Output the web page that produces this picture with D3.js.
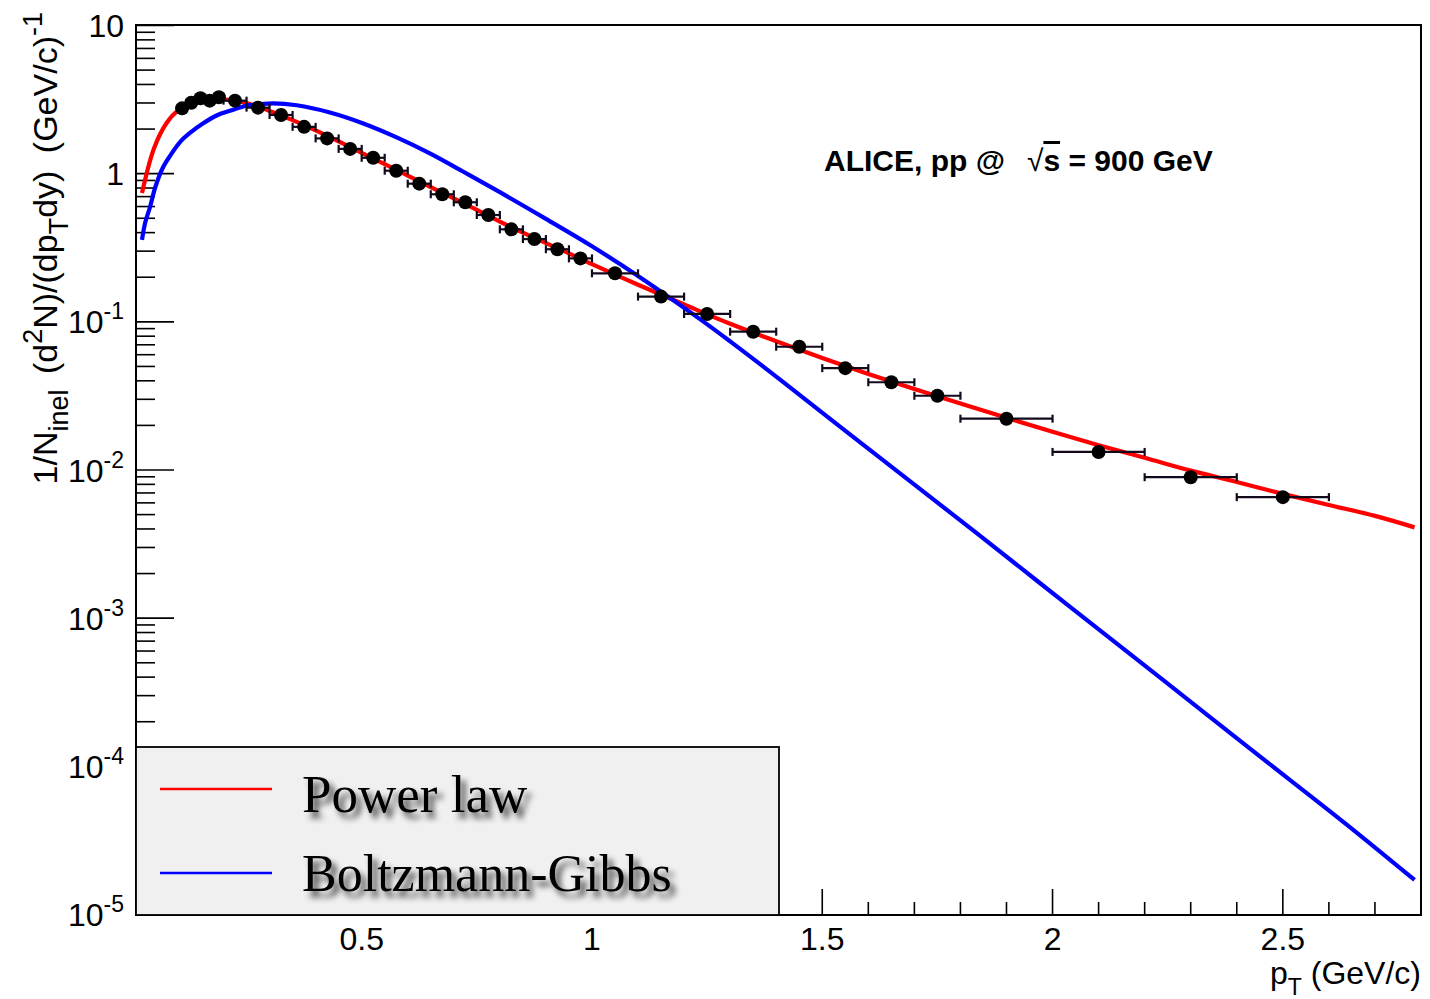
<!DOCTYPE html>
<html><head><meta charset="utf-8">
<script src="https://cdn.jsdelivr.net/npm/d3@7"></script>
<style>body{margin:0;background:#fff}svg{display:block}</style>
</head><body>
<script>
// ---- data ----
const ptCenters = [0.11,0.13,0.15,0.17,0.19,0.225,0.275,0.325,0.375,0.425,0.475,0.525,0.575,0.625,0.675,0.725,0.775,0.825,0.875,0.925,0.975,1.05,1.15,1.25,1.35,1.45,1.55,1.65,1.75,1.9,2.1,2.3,2.5];
const ptHalfWidths = [0.01,0.01,0.01,0.01,0.01,0.025,0.025,0.025,0.025,0.025,0.025,0.025,0.025,0.025,0.025,0.025,0.025,0.025,0.025,0.025,0.025,0.05,0.05,0.05,0.05,0.05,0.05,0.05,0.05,0.1,0.1,0.1,0.1];
const yields = [2.76,3.01,3.23,3.11,3.28,3.11,2.79,2.49,2.07,1.73,1.47,1.28,1.047,0.856,0.726,0.641,0.526,0.421,0.362,0.309,0.268,0.2126,0.148,0.113,0.0858,0.0679,0.0487,0.0391,0.0317,0.0222,0.01324,0.00894,0.00656];

const powerLawPt  = [0.023,0.049,0.076,0.098,0.13,0.16,0.20,0.25,0.30,0.35,0.40,0.45,0.50,0.55,0.60,0.65,0.70,0.75,0.80,0.85,0.90,0.95,1.00,1.10,1.20,1.30,1.40,1.50,1.60,1.70,1.80,1.90,2.00,2.10,2.20,2.30,2.40,2.50,2.60,2.70,2.786];
const powerLawVal = [0.74,1.48,2.19,2.62,2.98,3.14,3.18,3.0,2.65,2.3,1.96,1.65,1.38,1.16,0.97,0.81,0.68,0.57,0.475,0.40,0.34,0.29,0.245,0.178,0.131,0.097,0.074,0.057,0.0445,0.0352,0.0281,0.0225,0.0181,0.0147,0.0121,0.0099,0.0083,0.0069,0.0058,0.0049,0.0041];

const bgPt  = [0.023,0.030,0.040,0.052,0.069,0.085,0.106,0.130,0.156,0.185,0.214,0.245,0.272,0.308,0.359,0.431,0.5035,0.576,0.648,0.721,0.80,0.90,1.00,1.10,1.2345,1.30,1.40,1.535,1.836,2.036,2.237,2.437,2.638,2.786];
const bgVal = [0.357,0.468,0.589,0.813,1.109,1.334,1.641,1.914,2.188,2.47,2.655,2.853,2.924,2.985,2.897,2.588,2.183,1.758,1.371,1.030,0.750,0.495,0.3236,0.204,0.1043,0.0738,0.0427,0.0200,0.003733,0.001205,3.89e-4,1.257e-4,4.06e-5,1.71e-5];

const xMajorTicks = [0.5,1,1.5,2,2.5];
const xTickLabels = ["0.5","1","1.5","2","2.5"];
const yDecadeTicks = [10,1,0.1,0.01,0.001,0.0001,0.00001];
const yTickBase = ["10","1","10","10","10","10","10"];
const yTickExp  = ["","","-1","-2","-3","-4","-5"];
const legendLabels = ["Power law","Boltzmann-Gibbs"];
const legendColors = ["#ff0000","#0000ff"];

// ---- layout ----
const W = 1430, H = 999;
const L = 136, R = 1421, T = 25, B = 915;
const svg = d3.select("body").append("svg").attr("width",W).attr("height",H);
const x = d3.scaleLinear().domain([0.01,2.8]).range([L,R]);
const y = d3.scaleLog().domain([1e-5,10]).range([B-0.5,T+0.5]);
const font = "'Liberation Sans', Arial, Helvetica, sans-serif";

const defs = svg.append("defs");
defs.append("clipPath").attr("id","plotclip").append("rect").attr("x",L).attr("y",T).attr("width",R-L).attr("height",B-T);
const f = defs.append("filter").attr("id","tshadow").attr("x","-10%").attr("y","-40%").attr("width","130%").attr("height","200%");
f.append("feGaussianBlur").attr("in","SourceAlpha").attr("stdDeviation",3).attr("result","bl");
f.append("feOffset").attr("in","bl").attr("dx",5).attr("dy",6).attr("result","off");
f.append("feComponentTransfer").attr("in","off").attr("result","sh").append("feFuncA").attr("type","linear").attr("slope",0.75);
const fm = f.append("feMerge"); fm.append("feMergeNode").attr("in","sh"); fm.append("feMergeNode").attr("in","SourceGraphic");

// y ticks (log)
const yTicks = [];
for (let e=-5; e<=0; e++) for (let m=1; m<=9; m++) yTicks.push({v:m*Math.pow(10,e), major:m===1});
yTicks.push({v:10,major:true});
svg.append("g").selectAll("line").data(yTicks).join("line")
  .attr("x1",L).attr("x2",d=>L+(d.major?38:19))
  .attr("y1",d=>y(d.v)).attr("y2",d=>y(d.v))
  .attr("stroke","#000").attr("stroke-width",1.6);

// x ticks
const xTicks = [];
for (let i=1;i<=27;i++) xTicks.push({v:i/10, major:i%5===0});
svg.append("g").selectAll("line").data(xTicks).join("line")
  .attr("x1",d=>x(d.v)).attr("x2",d=>x(d.v))
  .attr("y1",B).attr("y2",d=>B-(d.major?26:13))
  .attr("stroke","#000").attr("stroke-width",1.6);

// curves
const lineGen = d3.line().x(d=>x(d[0])).y(d=>y(d[1])).curve(d3.curveCatmullRom.alpha(0.5));
const gc = svg.append("g").attr("clip-path","url(#plotclip)");
gc.append("path").datum(powerLawPt.map((p,i)=>[p,powerLawVal[i]]))
  .attr("d",lineGen).attr("fill","none").attr("stroke","#ff0000").attr("stroke-width",4.2).attr("stroke-linejoin","round");
gc.append("path").datum(bgPt.map((p,i)=>[p,bgVal[i]]))
  .attr("d",lineGen).attr("fill","none").attr("stroke","#0000ff").attr("stroke-width",4.2).attr("stroke-linejoin","round");

// data points with x error bars
const pts = ptCenters.map((p,i)=>({p, w:ptHalfWidths[i], v:yields[i]}));
const gp = svg.append("g");
gp.selectAll("line.eb").data(pts).join("line").attr("class","eb")
  .attr("x1",d=>x(d.p-d.w)).attr("x2",d=>x(d.p+d.w)).attr("y1",d=>y(d.v)).attr("y2",d=>y(d.v))
  .attr("stroke","#120a1c").attr("stroke-width",2.2);
gp.selectAll("line.c1").data(pts).join("line").attr("class","c1")
  .attr("x1",d=>x(d.p-d.w)).attr("x2",d=>x(d.p-d.w)).attr("y1",d=>y(d.v)-4).attr("y2",d=>y(d.v)+4)
  .attr("stroke","#120a1c").attr("stroke-width",2.2);
gp.selectAll("line.c2").data(pts).join("line").attr("class","c2")
  .attr("x1",d=>x(d.p+d.w)).attr("x2",d=>x(d.p+d.w)).attr("y1",d=>y(d.v)-4).attr("y2",d=>y(d.v)+4)
  .attr("stroke","#120a1c").attr("stroke-width",2.2);
gp.selectAll("circle").data(pts).join("circle")
  .attr("cx",d=>x(d.p)).attr("cy",d=>y(d.v)).attr("r",7).attr("fill","#000");

// frame
svg.append("rect").attr("x",L).attr("y",T).attr("width",R-L).attr("height",B-T)
  .attr("fill","none").attr("stroke","#000").attr("stroke-width",2);

// legend
const lg = svg.append("g");
lg.append("rect").attr("x",L).attr("y",747).attr("width",643).attr("height",B-747)
  .attr("fill","#f0f0f0").attr("stroke","#000").attr("stroke-width",1.8);
const legLineY = [789,873], legTextY = [812,891];
legendLabels.forEach((lab,i)=>{
  lg.append("line").attr("x1",160).attr("x2",272).attr("y1",legLineY[i]).attr("y2",legLineY[i]).attr("stroke",legendColors[i]).attr("stroke-width",2.4);
  lg.append("text").attr("x",302).attr("y",legTextY[i]).attr("font-family","'Liberation Serif','Times New Roman',serif")
    .attr("font-size",[53,52][i]).attr("fill","#000").attr("filter","url(#tshadow)").text(lab);
});

// y tick labels
const yl = svg.append("g").attr("font-family",font).attr("fill","#000");
yDecadeTicks.forEach((v,i)=>{
  const t = yl.append("text").attr("x",124).attr("y",y(v)+11.5).attr("text-anchor","end").attr("font-size",32);
  t.append("tspan").text(yTickBase[i]);
  if (yTickExp[i]) t.append("tspan").attr("font-size",23).attr("dy",-14).text(yTickExp[i]);
});

// x tick labels
svg.append("g").attr("font-family",font).selectAll("text").data(xMajorTicks).join("text")
  .attr("x",d=>x(d)).attr("y",950).attr("text-anchor","middle").attr("font-size",32)
  .text((d,i)=>xTickLabels[i]);

// x title
const xt = svg.append("text").attr("x",R).attr("y",984).attr("text-anchor","end").attr("font-family",font).attr("font-size",32);
xt.append("tspan").text("p");
xt.append("tspan").attr("font-size",23).attr("dy",11).text("T");
xt.append("tspan").attr("dy",-11).text(" (GeV/c)");

// y title
const ytg = svg.append("text").attr("transform","translate(57,12) rotate(-90)").attr("text-anchor","end")
  .attr("font-family",font).attr("font-size",34);
ytg.append("tspan").text("1/N");
ytg.append("tspan").attr("font-size",27).attr("dy",11).text("inel");
ytg.append("tspan").attr("dy",-11).attr("dx",6).text(" (d");
ytg.append("tspan").attr("font-size",27).attr("dy",-15).text("2");
ytg.append("tspan").attr("dy",15).text("N)/(dp");
ytg.append("tspan").attr("font-size",27).attr("dy",11).text("T");
ytg.append("tspan").attr("dy",-11).text("dy)");
ytg.append("tspan").attr("dx",8).text(" (GeV/c)");
ytg.append("tspan").attr("font-size",27).attr("dy",-15).text("-1");

// annotation
const ann = svg.append("text").attr("x",824).attr("y",171).attr("font-family",font).attr("font-weight","bold").attr("font-size",30);
ann.append("tspan").text("ALICE, pp @");
ann.append("tspan").attr("dx",22).attr("font-weight","normal").text("\u221A");
ann.append("tspan").attr("text-decoration","overline").text("s");
ann.append("tspan").text(" = 900 GeV");
</script>
</body></html>
